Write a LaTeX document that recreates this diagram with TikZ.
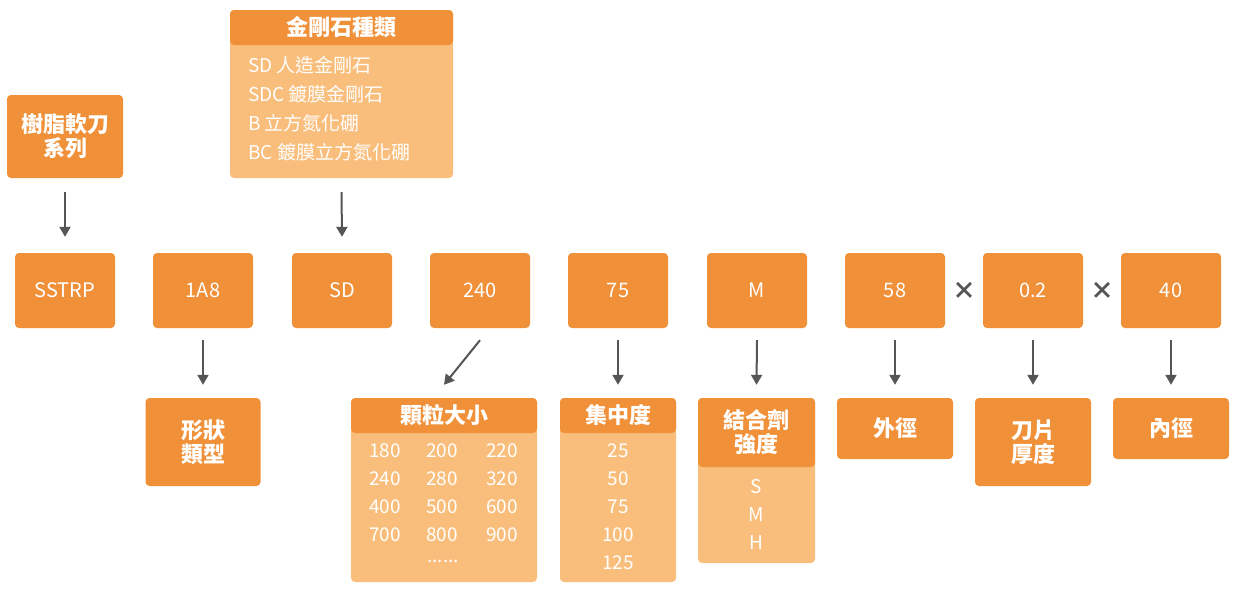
\documentclass[tikz,border=0pt]{standalone}
\usepackage{fontspec}
\setmainfont{Noto Sans CJK TC}
\usetikzlibrary{arrows.meta,calc}
\definecolor{og}{HTML}{F0913A}
\definecolor{lo}{HTML}{F9BE7B}
\definecolor{ag}{HTML}{555555}
\begin{document}
\begin{tikzpicture}[x=1pt,y=-1pt,
 box/.style={fill=og,rounded corners=4pt,text=white,inner sep=0pt,font=\fontsize{20}{24}\selectfont},
 lbox/.style={fill=lo,rounded corners=4pt,inner sep=0pt},
 hd/.style={text=white,font=\fontsize{22}{30}\selectfont\bfseries,align=center},
 tx/.style={text=white,font=\fontsize{19}{22}\selectfont,inner sep=0pt},
 arr/.style={draw=ag,line width=2pt,-{Triangle[width=11pt,length=10pt]}}]
\useasboundingbox (0,0) rectangle (1235,592);
% top row
\foreach \n/\x/\t in {a/65/SSTRP,b/203/1A8,c/342/SD,d/480/240,e/618/75,f/757/M,g/895/58,h/1033/0.2,i/1171/40}{
  \node[box,minimum width=100pt,minimum height=75pt] (\n) at (\x,290.5) {\t};}
\node[text=ag,font=\fontsize{24}{24}\selectfont\bfseries] (x1) at (964,291) {×};
\node[text=ag,font=\fontsize{24}{24}\selectfont\bfseries] (x2) at (1102,291) {×};
% top-left
\node[box,minimum width=116pt,minimum height=83pt,hd] (tl) at (65,136.5) {樹脂軟刀\\[-6pt]系列};
\draw[arr] ($(tl.south)+(0,14)$) -- ($(a.north)+(0,-16)$);
% diamond kind
\node[lbox,minimum width=223pt,minimum height=168pt] (dk) at (341.5,94) {};
\node[fill=og,rounded corners=4pt,minimum width=223pt,minimum height=35pt,inner sep=0pt,hd] (dkh) at (341.5,27.5) {金剛石種類};
\foreach \y/\t in {65/SD 人造金剛石,94/SDC 鍍膜金剛石,123/B 立方氮化硼,152/BC 鍍膜立方氮化硼}
  \node[tx,anchor=west] (dk\y) at (248,\y) {\t};
\draw[arr] ($(dk.south)+(0,14)$) -- ($(c.north)+(0,-16)$);
% bottom
\node[box,minimum width=115pt,minimum height=88pt,hd] (sb) at (203,442) {形狀\\[-6pt]類型};
\draw[arr] ($(b.south)+(0,12)$) -- ($(sb.north)+(0,-13)$);
% grain
\node[lbox,minimum width=186pt,minimum height=184pt] (gb) at (444,490) {};
\node[fill=og,rounded corners=4pt,minimum width=186pt,minimum height=35pt,inner sep=0pt,hd] (gh) at (444,415.5) {顆粒大小};
\foreach \r/\y in {0/451,1/479,2/507,3/535}{
 \foreach \c/\x in {0/385,1/442,2/502}{
  \pgfmathtruncatemacro{\k}{3*\r+\c}
  \ifcase\k\def\v{180}\or\def\v{200}\or\def\v{220}\or\def\v{240}\or\def\v{280}\or\def\v{320}\or\def\v{400}\or\def\v{500}\or\def\v{600}\or\def\v{700}\or\def\v{800}\or\def\v{900}\fi
  \node[tx] (g\r\c) at (\x,\y) {\v};}}
\node[tx] (gdots) at (443,561) {......};
\draw[arr] ($(d.south)+(0,12)$) -- ($(gh.north)+(0,-13)$);
% concentration
\node[lbox,minimum width=116pt,minimum height=184pt] (cb) at (618,490) {};
\node[fill=og,rounded corners=4pt,minimum width=116pt,minimum height=35pt,inner sep=0pt,hd] (ch) at (618,415.5) {集中度};
\foreach \y/\t in {451/25,479/50,507/75,535/100,563/125}
  \node[tx] (c\y) at (618,\y) {\t};
\draw[arr] ($(e.south)+(0,12)$) -- ($(ch.north)+(0,-13)$);
% bond
\node[lbox,minimum width=117pt,minimum height=165pt] (bb) at (756.5,480.5) {};
\node[fill=og,rounded corners=4pt,minimum width=117pt,minimum height=69pt,inner sep=0pt,hd] (bh) at (756.5,432.5) {結合劑\\[-6pt]強度};
\foreach \y/\t in {487/S,515/M,543/H}
  \node[tx] (b\y) at (756.5,\y) {\t};
\draw[arr] ($(f.south)+(0,12)$) -- ($(bh.north)+(0,-13)$);
% others
\node[box,minimum width=116pt,minimum height=61pt,hd] (od) at (895,428.5) {外徑};
\draw[arr] ($(g.south)+(0,12)$) -- ($(od.north)+(0,-13)$);
\node[box,minimum width=116pt,minimum height=88pt,hd] (th) at (1033,442) {刀片\\[-6pt]厚度};
\draw[arr] ($(h.south)+(0,12)$) -- ($(th.north)+(0,-13)$);
\node[box,minimum width=116pt,minimum height=61pt,hd] (id) at (1171,428.5) {內徑};
\draw[arr] ($(i.south)+(0,12)$) -- ($(id.north)+(0,-13)$);
\end{tikzpicture}
\end{document}
